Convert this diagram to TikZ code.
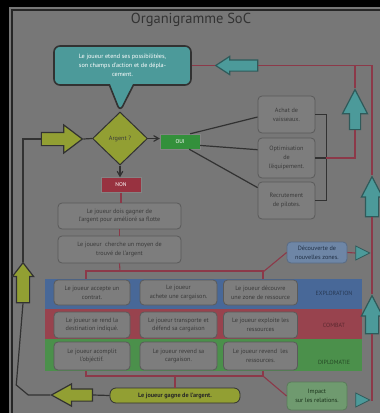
\documentclass[tikz,border=0pt]{standalone}
\usepackage{fontspec}
\setmainfont{PT Sans}
\usepackage{xcolor}
\usepackage{tikz}
\usetikzlibrary{shapes}
\usetikzlibrary{arrows}
\definecolor{fond}{HTML}{777777}
\definecolor{boxfill}{HTML}{7D7D7D}
\definecolor{boxborder}{HTML}{5A5A5A}
\definecolor{boxtext}{HTML}{3A3A3A}
\definecolor{teal1}{HTML}{4C9A9A}
\definecolor{tealborder}{HTML}{2F5A5A}
\definecolor{ygreen}{HTML}{929F33}
\definecolor{ouigreen}{HTML}{33903B}
\definecolor{nonred}{HTML}{983240}
\definecolor{redline}{HTML}{8C3949}
\definecolor{darkline}{HTML}{323232}
\definecolor{bandblue}{HTML}{486898}
\definecolor{bandred}{HTML}{98434E}
\definecolor{bandgreen}{HTML}{4B904B}
\definecolor{decfill}{HTML}{6E86A6}
\definecolor{impfill}{HTML}{6F9A6F}
\newcommand{\boxfont}{\fontsize{6.2}{8.8}\selectfont}
\tikzset{
	main node/.style={rectangle,rounded corners=4pt,draw=boxborder,fill=boxfill,line width=0.8pt,
		font=\boxfont,text=boxtext,align=center,inner sep=1pt},
	callout node/.style={rectangle callout,rounded corners=6pt,draw=darkline,fill=teal1,line width=1.6pt,
		font=\boxfont,text=white!85,align=center,inner sep=1pt},
	oui node/.style={rectangle,draw=darkline!60,fill=ouigreen,font=\fontsize{5.5}{6}\selectfont,text=white!70,
		minimum width=40pt,minimum height=15pt,inner sep=0pt},
	non node/.style={oui node,fill=nonred},
	big arrow/.style={single arrow,line width=1.2pt,inner xsep=0pt,minimum width=0pt},
	yarrow/.style={big arrow,draw=darkline,fill=ygreen},
	tarrow/.style={big arrow,draw=tealborder,fill=teal1},
	itria/.style={isosceles triangle,isosceles triangle stretches,draw=tealborder,fill=teal1,
		line width=0.8pt,minimum width=14pt,minimum height=14pt,inner sep=0pt},
	band label/.style={font=\fontsize{6}{7}\selectfont},
	red/.style={draw=redline,line width=1.1pt},
	dark/.style={draw=darkline,line width=1.2pt}
}

\begin{document}
\begin{tikzpicture}[x=1pt,y=-1pt,>=angle 60]
	\useasboundingbox (0,0) rectangle (380,413);
	\fill[black] (0,0) rectangle (380,413);
	\fill[fond] (9,7) rectangle (380,413);
	\draw[black!85,line width=1.2pt] (12,413) -- (12,10) -- (380,10);
	\node[font=\fontsize{14.5}{17}\selectfont,text=black!80] (1) at (191,20) {Organigramme SoC};
	% bandes
	\fill[bandblue] (45,279) rectangle (362,309);
	\fill[bandred] (45,309) rectangle (362,339);
	\fill[bandgreen] (45,339) rectangle (362,371);
	\node[band label,text=bandblue!55!black] (32) at (334,293) {EXPLORATION};
	\node[band label,text=bandred!60!black] (33) at (334,325) {COMBAT};
	\node[band label,text=bandgreen!50!black] (34) at (334,362) {DIPLOMATIE};
	% noeuds
	\node[diamond,aspect=1.05,draw=darkline,fill=ygreen,line width=1pt,minimum width=55pt,minimum height=53pt,
		inner sep=0pt,font=\boxfont,text=boxtext] (3) at (120,138.5) {Argent ?};
	\node[callout node,callout absolute pointer={(3.north)},callout pointer width=24pt,
		minimum width=137pt,minimum height=39pt] (2) at (122.5,65.5)
		{Le joueur etend ses possibilitées,\\son champs d'action et de dépla-\\cement.};
	\node[oui node] (4) at (180,141.5) {OUI};
	\node[non node] (5) at (121,185) {NON};
	\node[main node,minimum width=57pt,minimum height=37pt] (6) at (286.5,114.5) {Achat de\\vaisseaux.};
	\node[main node,minimum width=57pt,minimum height=40pt] (7) at (286.5,158) {Optimisation\\de\\l'équipement.};
	\node[main node,minimum width=57pt,minimum height=37pt] (8) at (286.5,200.5) {Recrutement\\de pilotes.};
	\node[main node,minimum width=123pt,minimum height=26pt] (9) at (119.5,216)
		{Le joueur dois gagner de\\l'argent pour amélioré sa flotte};
	\node[main node,minimum width=123pt,minimum height=27pt] (10) at (119.5,249.5)
		{Le joueur~~cherche un moyen de\\trouvé de l'argent};
	\node[main node,fill=decfill,draw=decfill!80!black,text=bandblue!45!black,minimum width=60pt,minimum height=21pt] (11)
		at (317,252.5) {Découverte de\\nouvelles zones.};
	\node[main node,minimum width=76pt,minimum height=25pt] (12) at (92,292.5) {Le joueur accepte un\\contrat.};
	\node[main node,minimum width=77pt,minimum height=25pt] (13) at (178.5,292.5) {Le joueur\\achete une cargaison.};
	\node[main node,minimum width=74pt,minimum height=25pt] (14) at (260.5,292.5) {Le joueur découvre\\une zone de ressource};
	\node[main node,minimum width=76pt,minimum height=26pt] (15) at (92,325) {Le joueur se rend la\\destination indiqué.};
	\node[main node,minimum width=77pt,minimum height=26pt] (16) at (178.5,325) {Le joueur transporte et\\défend sa cargaison};
	\node[main node,minimum width=74pt,minimum height=26pt] (17) at (260.5,325) {Le joueur exploite les\\ressources};
	\node[main node,minimum width=76pt,minimum height=28pt] (18) at (92,356) {Le joueur acomplit\\l'objéctif.};
	\node[main node,minimum width=77pt,minimum height=28pt] (19) at (178.5,356) {Le joueur revend sa\\cargaison.};
	\node[main node,minimum width=74pt,minimum height=28pt] (20) at (260.5,356) {Le joueur revend~~les\\ressources.};
	\node[main node,rounded corners=6pt,fill=ygreen,draw=darkline,text=black!85,font=\boxfont\bfseries,
		minimum width=130pt,minimum height=15pt] (21) at (175,395.5) {Le joueur gagne de l'argent.};
	\node[main node,fill=impfill,draw=impfill!80!black,text=bandgreen!35!black,minimum width=60pt,minimum height=28pt] (22)
		at (317,396) {Impact\\sur les relations.};
	% fleches
	\node[yarrow,inner ysep=6pt,single arrow head extend=7.5pt,single arrow tip angle=74,minimum height=41pt] (23) at (57.5,139) {};
	\node[yarrow,rotate=180,inner ysep=5.5pt,single arrow head extend=5pt,single arrow tip angle=58,minimum height=41pt] (24) at (77.5,395) {};
	\node[yarrow,rotate=90,inner ysep=6pt,single arrow head extend=4pt,single arrow tip angle=75,minimum height=40pt] (25) at (23,287) {};
	\node[tarrow,rotate=180,inner ysep=5pt,single arrow head extend=3.5pt,single arrow tip angle=66,minimum height=42pt] (26) at (241,65.5) {};
	\node[tarrow,rotate=90,inner ysep=5pt,single arrow head extend=7pt,single arrow tip angle=55,minimum height=40pt] (27) at (355,115) {};
	\node[tarrow,rotate=90,inner ysep=6pt,single arrow head extend=4pt,single arrow tip angle=55,minimum height=40pt] (28) at (372,203) {};
	\node[tarrow,rotate=90,inner ysep=6pt,single arrow head extend=4pt,single arrow tip angle=55,minimum height=38pt] (29) at (372,321) {};
	\node[itria] (30) at (360,253) {};
	\node[itria] (31) at (360,400) {};
	% liens
	\draw[dark,->] (3.east) -- (3.east -| 4.west);
	\draw[dark,->] (3.south) -- (3.south |- 5.north);
	\draw[dark] (4.37) -- (6.185);
	\draw[dark] (4.-11) -- (7.164);
	\draw[dark] (4.-40) -- (8.156);
	\draw[dark] (6.east) -- ++(11,0) |- (8.east);
	\coordinate (c1) at (326,158);
	\draw[dark] (7.east) -- (c1);
	\draw[red] (c1) -| (27.tail);
	\draw[red] (2.east) -- (26.tip);
	\draw[red] (26.tail) -| (28.tip);
	\draw[red] (27.tip) -- (27.tip |- 26.tail);
	\draw[red] (28.tail) -- (29.tip);
	\draw[red] (31.apex) -| (29.tail);
	\draw[red] (11.east) -- (30.west);
	\draw[red] (30.apex) -- (30.apex -| 28.tail);
	\draw[red] (5.south) -- (5.south |- 9.north);
	\draw[red] (9.south) -- (10.north);
	\coordinate (b1) at (120,271);
	\draw[red] (10.south) -- (b1);
	\draw[red] (b1) -| (86,279);
	\draw[red] (b1) -| (263,279);
	\draw[red] (263,272) -- (11.west);
	\coordinate (b2) at (175,376);
	\draw[red] (86,371) |- (b2) -| (263,371);
	\draw[red] (b2) -- (21.north);
	\draw[red] (263,376) -- (22.west);
	\draw[dark] (21.west) -- (24.tail);
	\draw[dark] (24.tip) -- ++(-22,0) -- ++(-12,-10) -- (25.tail);
	\draw[dark] (25.tip) |- (23.tail);
	\draw[dark] (23.tip) -- (3.west);
\end{tikzpicture}
\end{document}
